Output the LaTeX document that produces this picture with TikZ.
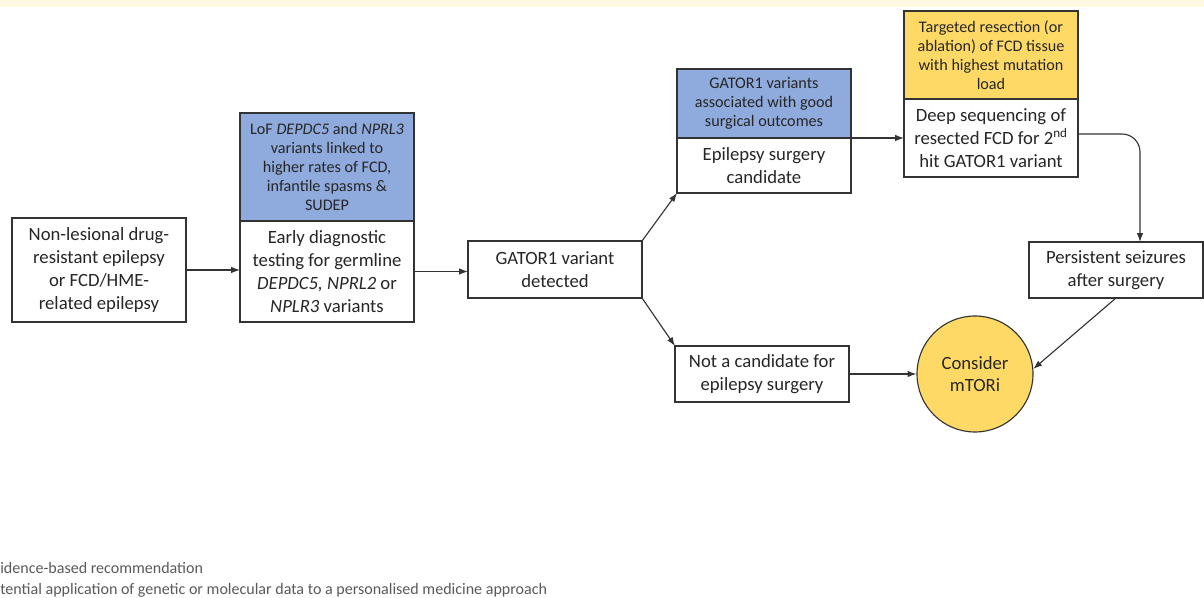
\documentclass[tikz,border=0pt]{standalone}
\usepackage{fontspec}
\setmainfont{Carlito}
\usetikzlibrary{arrows.meta,positioning,calc}
\definecolor{FlowInk}{HTML}{262626}
\definecolor{FlowLine}{HTML}{333333}
\definecolor{FlowBlue}{HTML}{8FAADC}
\definecolor{FlowGold}{HTML}{FFD966}
\definecolor{FlowCream}{HTML}{FFF9E1}
\definecolor{FlowMuted}{HTML}{595959}
\newcommand{\boxfont}{\fontsize{13.3}{16.2}\selectfont}
\newcommand{\notefont}{\fontsize{11.5}{13.5}\selectfont}

\begin{document}
\begin{tikzpicture}[
    plain/.style={
      draw=FlowLine,
      fill=white,
      line width=0.8pt,
      outer sep=0pt,
      minimum width=43.5mm,
      align=center,
      inner sep=1mm,
      text=FlowInk,
      font=\boxfont
    },
    evidence/.style={
      plain,
      fill=FlowBlue,
      font=\notefont
    },
    precision/.style={
      plain,
      fill=FlowGold,
      font=\notefont
    },
    decision/.style={
      circle,
      draw=FlowLine,
      fill=FlowGold,
      line width=0.8pt,
      minimum size=29mm,
      align=center,
      text=FlowInk,
      font=\boxfont
    },
    legend/.style={
      anchor=west,
      inner sep=0pt,
      text=FlowMuted,
      font=\fontsize{11.4}{13}\selectfont
    },
    flow/.style={
      -{Latex[length=2.2mm,width=1.6mm]},
      draw=FlowLine,
      line width=0.8pt
    }
  ]
    \useasboundingbox (0,0) rectangle (30.1,14.95);
    \fill[FlowCream] (0,14.775) rectangle (30.1,14.95);

    \node[plain, minimum height=26mm] (start) at (2.475,8.2) {Non-lesional drug-\\resistant epilepsy\\or FCD/HME-\\related epilepsy};
    \node[plain, minimum height=25.25mm] (early) at (8.175,8.1625) {Early diagnostic\\testing for germline\\\textit{DEPDC5, NPRL2} or\\\textit{NPLR3} variants};
    \node[evidence, minimum height=27mm, above=0pt of early] (lof) {LoF \textit{DEPDC5} and \textit{NPRL3}\\variants linked to\\higher rates of FCD,\\infantile spasms \&\\SUDEP};
    \node[plain, minimum height=14.25mm] (gator) at (13.875,8.2125) {GATOR1 variant\\detected};
    \node[plain, minimum height=13.75mm] (cand) at (19.1,10.8125) {Epilepsy surgery\\candidate};
    \node[evidence, minimum height=17.25mm, above=0pt of cand] (goodout) {GATOR1 variants\\associated with good\\surgical outcomes};
    \node[plain, minimum height=14mm] (notcand) at (19.05,5.6) {Not a candidate for\\epilepsy surgery};
    \node[plain, minimum height=19.5mm] (deep) at (24.775,11.5) {Deep sequencing of\\resected FCD for 2\textsuperscript{nd}\\hit GATOR1 variant};
    \node[precision, minimum height=22mm, above=0pt of deep] (resect) {Targeted resection (or\\ablation) of FCD tissue\\with highest mutation\\load};
    \node[plain, minimum height=14mm] (persist) at (27.9,8.2) {Persistent seizures\\after surgery};
    \node[decision] (mtor) at (24.375,5.6) {Consider\\mTORi};

    \node[legend] (evnote) at (0,0.74) {idence-based recommendation};
    \node[legend] (pmnote) at (0,0.2) {tential application of genetic or molecular data to a personalised medicine approach};

    \draw[flow] (start.east) -- (start.east -| early.west);
    \draw[flow] (early.east) -- (early.east -| gator.west);
    \draw[flow] (gator.north east) -- (cand.south west);
    \draw[flow] (gator.south east) -- (notcand.north west);
    \draw[flow] (cand.north east) -- (deep.west);
    \draw[flow, rounded corners=4.5mm] ([yshift=1mm]deep.east) -| ([xshift=6mm]persist.north);
    \draw[flow] (persist.south) -- (mtor.5);
    \draw[flow] (notcand.east) -- (mtor.west);
  \end{tikzpicture}
\end{document}
